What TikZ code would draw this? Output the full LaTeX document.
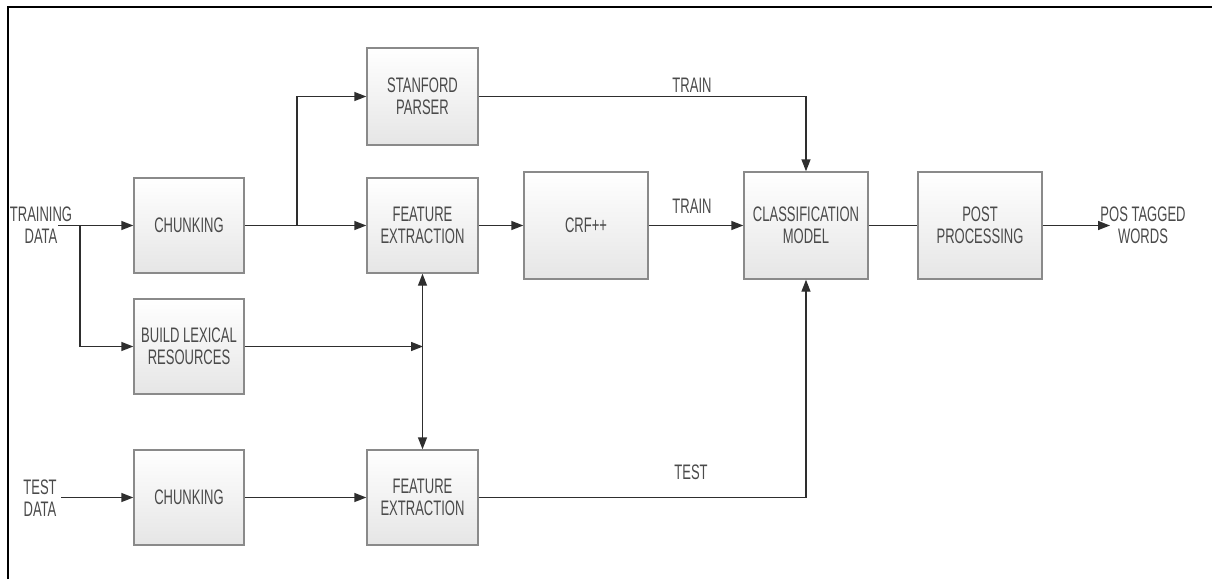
\documentclass[tikz,border=0pt]{standalone}
\usepackage{fontspec}
\setmainfont{Liberation Sans}[FakeStretch=0.62]
\usetikzlibrary{arrows.meta}
\definecolor{boxline}{HTML}{8A8A8A}
\definecolor{txt}{HTML}{4A4A4A}
\definecolor{conn}{HTML}{2E2E2E}
\tikzset{
  stepbox/.style={draw=boxline, line width=1.4pt, top color=white, bottom color=black!10,
    align=center, text=txt, inner sep=0pt, font=\fontsize{21}{22}\selectfont},
  smallbox/.style={stepbox, minimum width=110pt, minimum height=95pt},
  bigbox/.style={stepbox, minimum width=124pt, minimum height=107pt},
  lbl/.style={align=center, text=txt, inner sep=0pt, font=\fontsize{21}{22}\selectfont},
  conn/.style={draw=conn, line width=1.4pt},
  arr/.style={conn, -{Triangle[length=12pt,width=9pt]}},
  darr/.style={conn, {Triangle[length=12pt,width=9pt]}-{Triangle[length=12pt,width=9pt]}},
}
\begin{document}
\begin{tikzpicture}[x=1pt,y=-1pt]
\useasboundingbox (0,0) rectangle (1212,579);
\draw[line width=2pt, black] (8,579) -- (8,7) -- (1212,7);

% boxes
\node[smallbox, minimum width=111pt, minimum height=97pt] (sp) at (422.5,96.5) {STANFORD\\PARSER};
\node[smallbox] (ch1) at (189,225.5) {CHUNKING};
\node[smallbox, minimum width=111pt] (fe1) at (422.5,225.5) {FEATURE\\EXTRACTION};
\node[smallbox] (bl) at (189,346.5) {BUILD LEXICAL\\RESOURCES};
\node[smallbox] (ch2) at (189,497.5) {CHUNKING};
\node[smallbox, minimum width=111pt] (fe2) at (422.5,497.5) {FEATURE\\EXTRACTION};
\node[bigbox] (crf) at (586,225.5) {CRF++};
\node[bigbox] (cm) at (806,225.5) {CLASSIFICATION\\MODEL};
\node[bigbox] (pp) at (980,225.5) {POST\\PROCESSING};

% free texts
\node[lbl] (td) at (41,225) {TRAINING\\DATA};
\node[lbl] (ted) at (40,498) {TEST\\DATA};
\node[lbl] (out) at (1143,225) {POS TAGGED\\WORDS};
\node[lbl] (t1) at (692,85) {TRAIN};
\node[lbl] (t2) at (692,206) {TRAIN};
\node[lbl] (t3) at (691,472) {TEST};

% coordinates
\coordinate (tds) at (58,225.5);
\coordinate (b1) at (80,225.5);
\coordinate (b2) at (297,225.5);
\coordinate (vj) at (423,346.5);
\coordinate (teds) at (61,497.5);
\coordinate (oute) at (1110,225.5);

% connectors
\draw[arr] (tds) -- (ch1.west);
\draw[arr] (b1) |- (bl.west);
\draw[arr] (ch1.east) -- (fe1.west);
\draw[arr] (b2) |- (sp.west);
\draw[arr] (bl.east) -- (vj);
\draw[darr] (fe1.south) -- (fe2.north);
\draw[arr] (fe1.east) -- (crf.west);
\draw[arr] (crf.east) -- (cm.west);
\draw[arr] (sp.east) -| (cm.north);
\draw[arr] (fe2.east) -| (cm.south);
\draw[conn] (cm.east) -- (pp.west);
\draw[arr] (pp.east) -- (oute);
\draw[arr] (teds) -- (ch2.west);
\draw[arr] (ch2.east) -- (fe2.west);
\end{tikzpicture}
\end{document}
